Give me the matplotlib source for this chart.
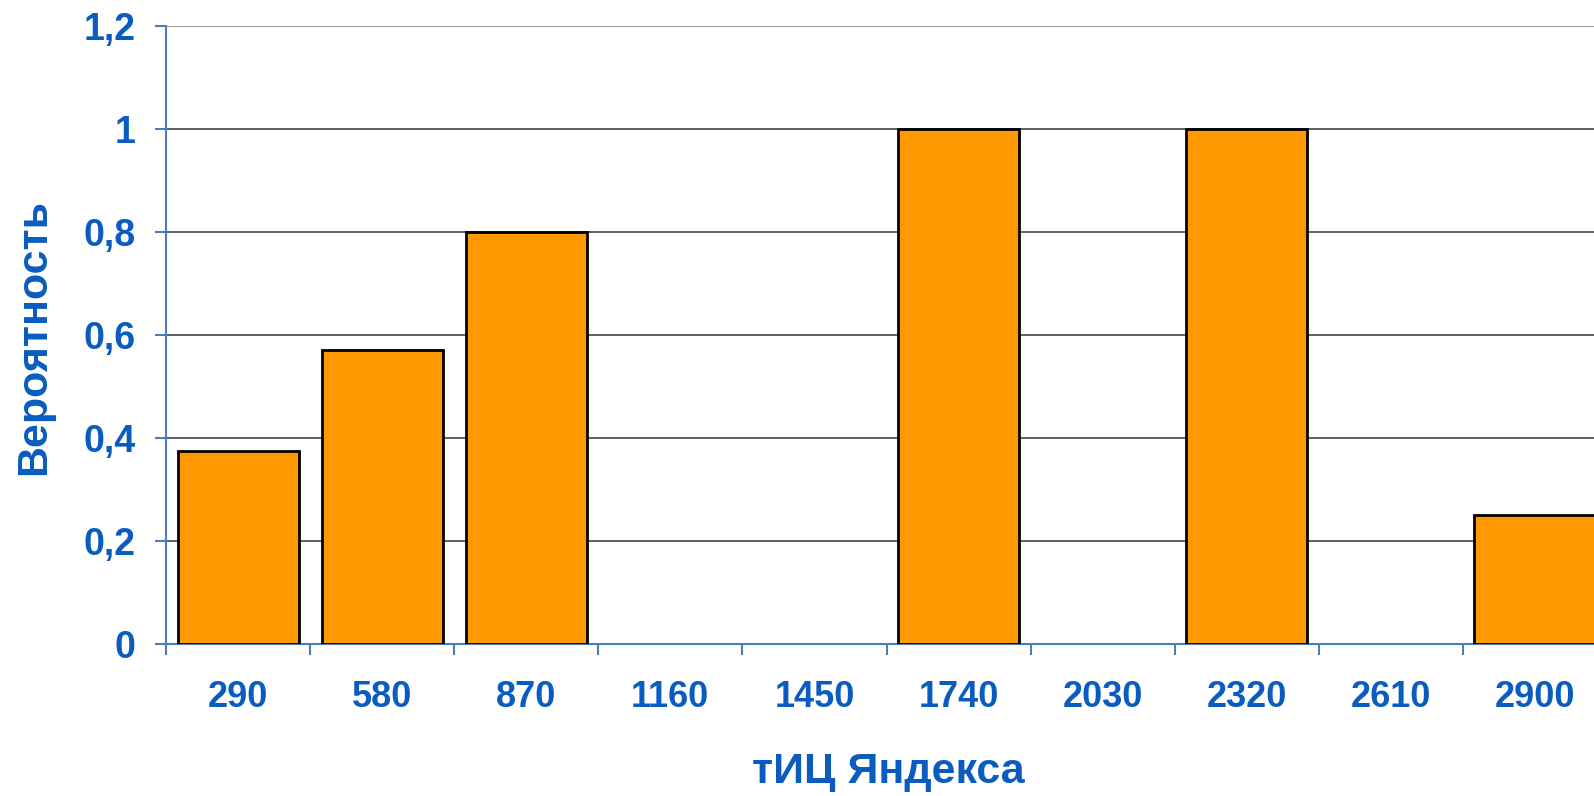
import matplotlib
matplotlib.use('Agg')
import matplotlib.pyplot as plt
import numpy as np

categories = ['290', '580', '870', '1160', '1450', '1740', '2030', '2320', '2610', '2900']
values = [0.375, 0.57, 0.8, 0, 0, 1.0, 0, 1.0, 0, 0.25]
y_ticks = [0, 0.2, 0.4, 0.6, 0.8, 1, 1.2]
y_tick_labels = ['0', '0,2', '0,4', '0,6', '0,8', '1', '1,2']

text_blue = '#0a5cc0'
axis_blue = '#4a7ebb'
bar_orange = '#ff9900'

plt.rcParams['font.family'] = ['Liberation Sans', 'DejaVu Sans']
plt.rcParams['font.weight'] = 'bold'

W, H = 1594, 796
fig = plt.figure(figsize=(W / 100, H / 100), dpi=100)
# axes runs past the right edge, like the cropped original
ax = fig.add_axes([166 / W, 1 - 644 / H, 1441 / W, 618 / H])

x = np.arange(len(categories))
mask = np.array(values) > 0
ax.bar(x[mask], np.array(values)[mask], width=0.84, color=bar_orange,
       edgecolor='black', linewidth=2, zorder=3)

ax.set_xlim(-0.5, len(categories) - 0.5)
ax.set_ylim(0, 1.2)
ax.set_yticks(y_ticks)
ax.set_yticklabels(y_tick_labels)
for y in y_ticks[1:]:
    ax.axhline(y, color='#8a8a8a' if y == 1.2 else '#444444', linewidth=1.2, zorder=1)

ax.set_xticks(x)
ax.set_xticklabels(categories)
ax.set_xticks(np.arange(len(categories) + 1) - 0.5, minor=True)
ax.tick_params(axis='x', which='major', length=0, pad=26, labelsize=26, labelcolor=text_blue)
ax.tick_params(axis='x', which='minor', length=8, width=1.5, color=axis_blue, direction='out')
ax.tick_params(axis='y', length=8, width=1.5, color=axis_blue, direction='out', pad=14,
               labelsize=27, labelcolor=text_blue)

for s in ['top', 'right']:
    ax.spines[s].set_visible(False)
for s in ['left', 'bottom']:
    ax.spines[s].set_color(axis_blue)
    ax.spines[s].set_linewidth(1.5)

ax.set_ylabel('Вероятность', fontsize=31, color=text_blue, fontweight='bold')
ax.yaxis.set_label_coords(-0.0777, 0.496)
ax.set_xlabel('тИЦ Яндекса', fontsize=31, color=text_blue, fontweight='bold')
ax.xaxis.set_label_coords(0.501, -0.175)

fig.savefig('out.png', dpi=100)
